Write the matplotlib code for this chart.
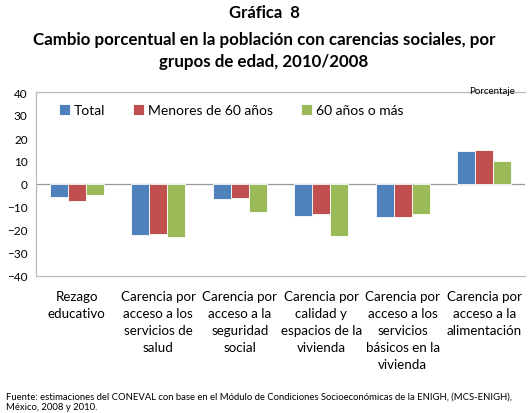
import matplotlib.pyplot as plt
import numpy as np

plt.rcParams['font.family'] = ['Lato', 'DejaVu Sans']

# datos
categorias = ["Rezago\neducativo",
              "Carencia por\nacceso a los\nservicios de\nsalud",
              "Carencia por\nacceso a la\nseguridad\nsocial",
              "Carencia por\ncalidad y\nespacios de la\nvivienda",
              "Carencia por\nacceso a los\nservicios\nbásicos en la\nvivienda",
              "Carencia por\nacceso a la\nalimentación"]
total = [-5.8, -22.0, -6.5, -13.9, -14.2, 14.2]
menores60 = [-7.4, -21.9, -6.1, -13.2, -14.3, 14.8]
mayores60 = [-4.6, -23.2, -12.3, -22.6, -13.2, 9.9]
series = ["Total", "Menores de 60 años", "60 años o más"]
colores = ["#4F81BD", "#C0504D", "#9BBB59"]

fig = plt.figure(figsize=(5.28, 4.14), dpi=100)
ax = fig.add_axes([36 / 528, 1 - 277 / 414, 489 / 528, 184 / 414])

x = np.arange(len(categorias))
ancho = 0.22
for i, (vals, nombre, col) in enumerate(zip([total, menores60, mayores60], series, colores)):
    ax.bar(x + (i - 1) * ancho, vals, ancho, color=col, edgecolor="white",
           linewidth=0.6, label=nombre, zorder=3)

ax.set_xlim(-0.5, len(categorias) - 0.5)
ax.set_ylim(-40, 40)
ax.set_yticks(range(-40, 41, 10))
ax.tick_params(axis="y", length=0, labelsize=8.5, pad=6)
ax.set_xticks([])
ax.axhline(0, color="#999999", lw=0.9, zorder=2)
for s in ["top", "bottom", "left"]:
    ax.spines[s].set_color("#BBBBBB")
    ax.spines[s].set_linewidth(0.9)
ax.spines["right"].set_visible(False)

for xi, cat in zip(x, categorias):
    ax.text(xi, -46, cat, ha="center", va="top", fontsize=9.6, linespacing=1.5)

ax.legend(loc="upper left", bbox_to_anchor=(0.035, 0.965), ncol=3, frameon=False,
          fontsize=10, handlelength=0.8, handleheight=0.8, handletextpad=0.3,
          columnspacing=2.0, borderaxespad=0)

fig.text(0.932, 1 - 91 / 414, "Porcentaje", fontsize=7, ha="center", va="center")

fig.text(0.5, 1 - 13 / 414, "Gráfica  8", fontsize=12, fontweight="bold", ha="center", va="center")
fig.text(0.5, 1 - 51 / 414, "Cambio porcentual en la población con carencias sociales, por\ngrupos de edad, 2010/2008",
         fontsize=12.2, fontweight="bold", ha="center", va="center", linespacing=1.4)

fig.text(0.012, 1 - 402 / 414,
         "Fuente: estimaciones del CONEVAL con base en el Módulo de Condiciones Socioeconómicas de la ENIGH, (MCS-ENIGH),\nMéxico, 2008 y 2010.",
         fontsize=6.8, ha="left", va="center", linespacing=1.15)

fig.savefig("out.png", dpi=100)
